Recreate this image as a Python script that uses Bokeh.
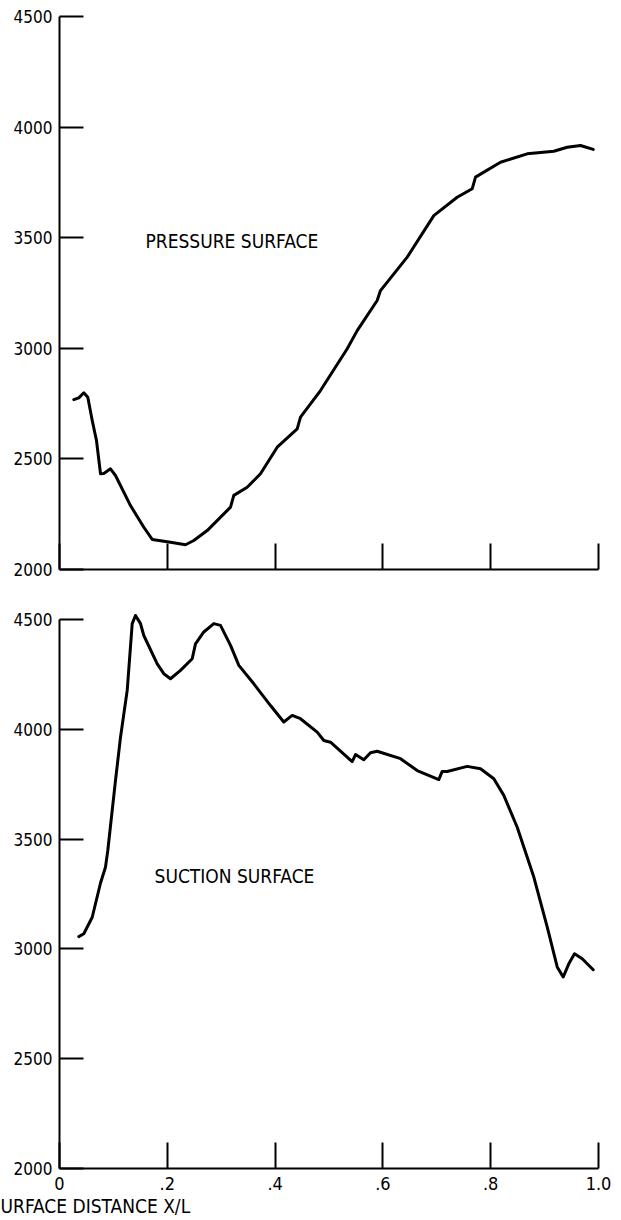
from bokeh.plotting import figure
from bokeh.layouts import column
from bokeh.models import Range1d, FixedTicker, Label
from bokeh.embed import file_html
from bokeh.resources import INLINE

# Pressure surface (top panel)
ps_x = [0.0265, 0.0358, 0.0451, 0.0525, 0.0607, 0.0686, 0.0761, 0.0822, 0.0946, 0.1039,
        0.1317, 0.1564, 0.1720, 0.2059, 0.2338, 0.2492, 0.2740, 0.3173, 0.3234, 0.3482,
        0.3729, 0.4039, 0.4410, 0.4471, 0.4842, 0.5338, 0.5523, 0.5894, 0.5955, 0.6451,
        0.6944, 0.7378, 0.7657, 0.7718, 0.8182, 0.8677, 0.9171, 0.9419, 0.9666, 0.9902]
ps_v = [2768, 2776, 2799, 2779, 2674, 2583, 2433, 2434, 2455, 2425,
        2289, 2191, 2136, 2123, 2112, 2131, 2176, 2282, 2335, 2372,
        2433, 2553, 2636, 2689, 2809, 2998, 3080, 3216, 3261, 3412,
        3600, 3683, 3721, 3774, 3841, 3879, 3891, 3909, 3917, 3899]

# Suction surface (bottom panel)
ss_x = [0.0358, 0.0451, 0.0607, 0.0761, 0.0853, 0.0896, 0.1039, 0.1132, 0.1256, 0.1349,
        0.1410, 0.1503, 0.1564, 0.1813, 0.1935, 0.2059, 0.2245, 0.2462, 0.2523, 0.2677,
        0.2863, 0.2987, 0.3173, 0.3327, 0.3605, 0.3915, 0.4161, 0.4317, 0.4471, 0.4781,
        0.4904, 0.5028, 0.5430, 0.5492, 0.5646, 0.5770, 0.5894, 0.6327, 0.6636, 0.7037,
        0.7100, 0.7193, 0.7564, 0.7811, 0.8058, 0.8243, 0.8492, 0.8800, 0.9048, 0.9234,
        0.9345, 0.9449, 0.9555, 0.9698, 0.9902]
ss_v = [3056, 3069, 3144, 3300, 3372, 3448, 3767, 3964, 4177, 4481,
        4518, 4481, 4427, 4298, 4253, 4230, 4268, 4321, 4389, 4443,
        4481, 4473, 4382, 4291, 4207, 4108, 4033, 4063, 4048, 3987,
        3949, 3941, 3853, 3885, 3861, 3893, 3900, 3866, 3812, 3771,
        3808, 3808, 3831, 3820, 3775, 3699, 3554, 3327, 3100, 2918,
        2872, 2932, 2978, 2955, 2905]

x_ticks = [0, 0.2, 0.4, 0.6, 0.8, 1.0]
x_tick_labels = ["0", ".2", ".4", ".6", ".8", "1.0"]
y_ticks = [2000, 2500, 3000, 3500, 4000, 4500]

FONT = "DejaVu Sans Condensed"


def make_fig(height, top, bottom, y_end, show_x_labels, **kw):
    p = figure(width=621, height=height, output_backend="svg", toolbar_location=None,
               x_range=Range1d(0, 1.0), y_range=Range1d(2000, y_end),
               min_border_left=59, min_border_right=23,
               min_border_top=top, min_border_bottom=bottom, **kw)
    p.outline_line_color = None
    p.grid.visible = False
    p.background_fill_color = "white"
    p.border_fill_color = "white"

    ya = p.yaxis[0]
    ya.ticker = FixedTicker(ticks=y_ticks)
    ya.bounds = (2000, 4500)
    ya.major_tick_in = 24
    ya.major_tick_out = 0
    ya.minor_tick_in = 0
    ya.minor_tick_out = 0
    ya.axis_line_width = 2
    ya.major_tick_line_width = 2
    ya.major_label_standoff = 7
    ya.major_label_text_font = FONT
    ya.major_label_text_font_size = "17px"
    ya.major_label_text_color = "black"
    ya.axis_line_color = "black"
    ya.major_tick_line_color = "black"

    xa = p.xaxis[0]
    xa.ticker = FixedTicker(ticks=x_ticks)
    xa.major_label_overrides = {t: l for t, l in zip(x_ticks, x_tick_labels)}
    xa.major_tick_in = 26
    xa.major_tick_out = 0
    xa.minor_tick_in = 0
    xa.minor_tick_out = 0
    xa.axis_line_width = 2
    xa.major_tick_line_width = 2
    xa.axis_line_color = "black"
    xa.major_tick_line_color = "black"
    xa.major_label_text_font = FONT
    if show_x_labels:
        xa.major_label_standoff = 8
        xa.major_label_text_font_size = "18px"
        xa.major_label_text_color = "black"
    else:
        xa.major_label_standoff = 0
        xa.major_label_text_font_size = "6px"
        xa.major_label_text_alpha = 0
    return p


p1 = make_fig(600, 16, 31, 4500, False)
p1.line(ps_x, ps_v, line_color="black", line_width=3, line_join="round", line_cap="round")
p1.add_layout(Label(x=0.1596, y=3483, text="PRESSURE SURFACE", text_font=FONT,
                    text_font_size="19px", text_baseline="middle", text_align="left",
                    text_color="black"))

p2 = make_fig(620, 6, 52, 4559, True,
              title="URFACE DISTANCE  X/L", title_location="below")
p2.title.align = "left"
p2.title.offset = -59
p2.title.standoff = 0
p2.title.text_font = FONT
p2.title.text_font_size = "19px"
p2.title.text_font_style = "normal"
p2.title.text_color = "black"
p2.line(ss_x, ss_v, line_color="black", line_width=3, line_join="round", line_cap="round")
p2.add_layout(Label(x=0.1763, y=3330, text="SUCTION SURFACE", text_font=FONT,
                    text_font_size="19px", text_baseline="middle", text_align="left",
                    text_color="black"))

layout = column(p1, p2, spacing=0)
open("out.html", "w").write(file_html(layout, INLINE))
